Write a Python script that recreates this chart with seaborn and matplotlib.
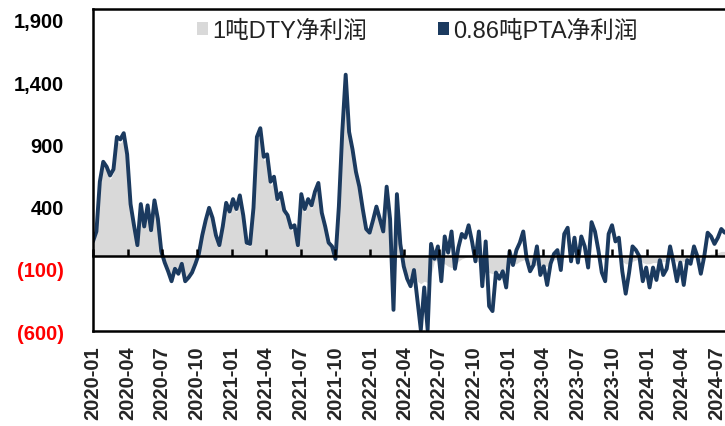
import matplotlib
matplotlib.use("Agg")
import matplotlib.pyplot as plt
from matplotlib.patches import Patch
import seaborn as sns
import pandas as pd

# ---------------- data ----------------
start_date = "2020-01-01"
step = "9D"

pta_profit = [
    120, 200, 600, 760, 720, 650, 700, 960, 940, 990,
    820, 420, 250, 90, 420, 240, 410, 210, 450, 300,
    40, -50, -120, -200, -100, -140, -60, -200, -170, -130,
    -60, 20, 170, 290, 390, 310, 170, 90, 240, 430,
    360, 460, 380, 490, 330, 110, 100, 390, 960, 1030,
    800, 820, 600, 640, 460, 510, 370, 330, 230, 250,
    90, 500, 380, 460, 410, 520, 590, 350, 240, 110,
    80, -20, 400, 1000, 1460, 1000, 860, 680, 560, 380,
    220, 190, 290, 400, 300, 200, 560, 300, -430, 500,
    100, -80, -180, -240, -110, -350, -590, -250, -590, 100,
    -20, 80, -200, 160, 30, 200, -100, 70, 180, 150,
    250, 120, -40, 200, -240, 120, -400, -440, -130, -180,
    -120, -250, 40, -70, 50, 110, 200, -20, -120, -70,
    80, -150, -80, -230, -60, 20, 50, -110, 180, 230,
    -40, 150, -50, 160, 80, -90, 275, 200, 50, -130,
    -200, 180, 250, 120, 150, -120, -300, -130, 80, 50,
    0, -200, -90, -250, -90, -190, -30, -150, -100, 80,
    -50, -200, -50, -230, -30, -60, 80, 0, -140, 0,
    190, 160, 100, 150, 220, 190,
]

dty_profit = [
    100, 180, 560, 730, 690, 620, 670, 920, 910, 950,
    780, 390, 230, 70, 390, 220, 380, 190, 420, 270,
    20, -40, -100, -180, -90, -120, -50, -180, -150, -110,
    -50, 10, 150, 260, 360, 280, 150, 70, 220, 400,
    330, 430, 350, 460, 300, 90, 80, 360, 920, 990,
    770, 790, 570, 610, 430, 480, 340, 300, 210, 220,
    70, 470, 350, 430, 380, 490, 560, 320, 210, 90,
    60, -10, 370, 960, 1410, 960, 830, 650, 530, 350,
    200, 170, 260, 370, 270, 180, 520, 270, 0, 460,
    60, -70, -150, -180, -110, -200, -220, -200, -210, -150,
    -40, -30, -60, -60, -80, -90, -80, -40, -20, -10,
    0, 0, -30, -50, -110, -120, -130, -140, -130, -120,
    -110, -100, -70, -60, -60, -40, -30, -20, -60, -70,
    -70, -75, -75, -80, -50, -30, -20, -20, -10, 0,
    -10, 0, -10, 10, 10, -10, 20, 20, 10, -20,
    -30, -10, 0, 10, 0, -40, -60, -60, -40, -30,
    -20, -50, -60, -60, -50, -50, -40, -40, -40, -20,
    -30, -40, -40, -40, -30, -30, -10, -20, -30, -10,
    10, 20, 20, 30, 40, 40,
]

series_names = ["1吨DTY净利润", "0.86吨PTA净利润"]
y_ticks = [-600, -100, 400, 900, 1400, 1900]
y_tick_labels = ["(600)", "(100)", "400", "900", "1,400", "1,900"]
x_tick_dates = pd.date_range("2020-01-01", "2024-07-01", freq="QS")
x_tick_labels = [d.strftime("%Y-%m") for d in x_tick_dates]

dates = pd.date_range(start_date, periods=len(pta_profit), freq=step)
df = pd.DataFrame({"date": dates, "pta": pta_profit, "dty": dty_profit})

# ---------------- styling ----------------
sns.set_style("white")
plt.rcParams["font.family"] = ["Liberation Sans", "Noto Sans CJK SC", "DejaVu Sans"]

navy = "#1B3A5F"
gray = "#D9D9D9"

fig = plt.figure(figsize=(7.25, 4.27), dpi=100)
ax = fig.add_axes([93 / 725, 95 / 427, 634 / 725, 322 / 427])

# gray area (DTY)
ax.fill_between(df["date"], 0, df["dty"], color=gray, linewidth=0, zorder=1)
# navy line (PTA)
sns.lineplot(data=df, x="date", y="pta", ax=ax, color=navy, linewidth=2.8,
             zorder=2, legend=False)

ax.set_xlim(pd.Timestamp("2020-01-01"), pd.Timestamp("2024-07-29"))
ax.set_ylim(-600, 1988)
ax.set_xlabel("")
ax.set_ylabel("")

# y axis
ax.set_yticks(y_ticks)
ax.set_yticklabels(y_tick_labels)
ax.tick_params(axis="y", direction="in", length=5, width=1.5, pad=21,
               labelsize=14.5, colors="black")
for lbl, v in zip(ax.get_yticklabels(), y_ticks):
    lbl.set_fontweight("bold")
    lbl.set_color("#FF0000" if v < 0 else "black")

# x axis labels at bottom (no tick marks)
ax.set_xticks(x_tick_dates)
ax.set_xticklabels(x_tick_labels, rotation=90, ha="center", va="top")
ax.tick_params(axis="x", length=0, pad=10, labelsize=14.5)
for lbl in ax.get_xticklabels():
    lbl.set_fontweight("bold")

for side in ["left", "bottom", "top"]:
    ax.spines[side].set_color("black")
    ax.spines[side].set_linewidth(1.8)
ax.spines["right"].set_visible(False)

# zero axis with small upward tick marks
ax2 = ax.twiny()
ax2.set_xlim(ax.get_xlim())
ax2.set_xticks(x_tick_dates)
ax2.spines["bottom"].set_position(("data", 0))
ax2.spines["bottom"].set_linewidth(1.8)
ax2.spines["bottom"].set_color("black")
for side in ["left", "right", "top"]:
    ax2.spines[side].set_visible(False)
ax2.tick_params(axis="x", which="both", bottom=True, top=False,
                labelbottom=False, labeltop=False, direction="in",
                length=5, width=1.8, color="black")
ax2.set_zorder(ax.get_zorder() + 1)
ax2.patch.set_visible(False)

# legend
handles = [Patch(facecolor=gray, edgecolor="none"),
           Patch(facecolor=navy, edgecolor="none")]
leg = ax.legend(handles, series_names, ncol=2, frameon=False,
                loc="center", bbox_to_anchor=(0.511, 0.932),
                fontsize=17, handlelength=0.5, handleheight=0.5,
                handletextpad=0.15, columnspacing=3.0)
for t in leg.get_texts():
    t.set_color("#222222")

fig.savefig("out.png", dpi=100)
